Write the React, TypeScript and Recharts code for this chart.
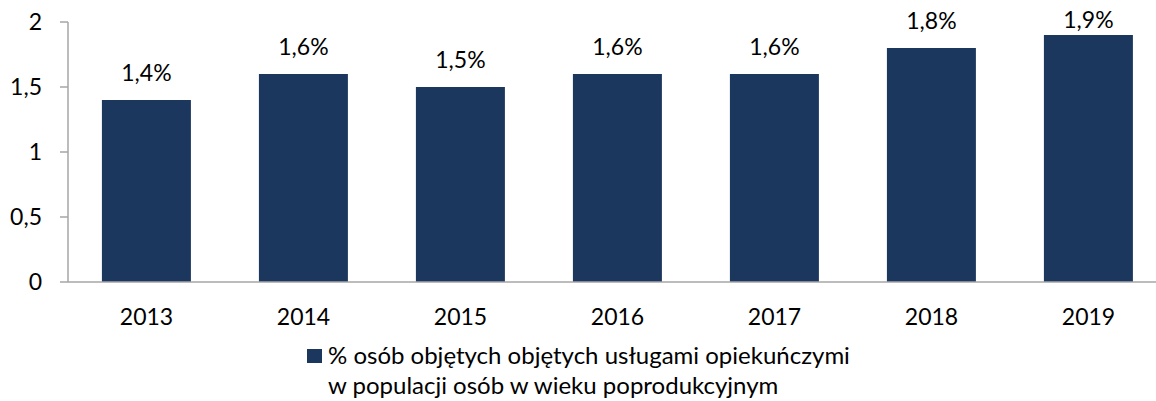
import React from "react";
import {
  BarChart,
  Bar,
  XAxis,
  YAxis,
  Legend,
  LabelList,
} from "recharts";

const years = ["2013", "2014", "2015", "2016", "2017", "2018", "2019"];
const shares = [1.4, 1.6, 1.5, 1.6, 1.6, 1.8, 1.9];
const yTicks = [0, 0.5, 1, 1.5, 2];
const legendLines = [
  "% osób objętych objętych usługami opiekuńczymi",
  "w populacji osób w wieku poprodukcyjnym",
];

const data = years.map((year, i) => ({ year, value: shares[i] }));
const boundaryTicks = years.map((_, i) => i).concat(years.length);

const BAR = "#1c375e";
const AXIS = "#a6a6a6";
const FONT = "Lato, 'Open Sans', sans-serif";
const TEXT_SIZE = 23;

const comma = (v: number | string) => String(v).replace(".", ",");

// value labels sit above bars, but never above the plot's top edge (like Excel)
const ValueLabel = (props: any) => {
  const { x, y, width, value } = props;
  const baseline = Math.max(Number(y) - 19, 28);
  return (
    <text
      x={Number(x) + Number(width) / 2}
      y={baseline}
      textAnchor="middle"
      fill="#000"
      fontSize={TEXT_SIZE}
      fontFamily={FONT}
    >
      {comma(Number(value).toFixed(1)) + "%"}
    </text>
  );
};

const LegendBox = () => (
  <div
    style={{
      display: "flex",
      alignItems: "flex-start",
      paddingLeft: 307,
      paddingTop: 18,
      fontFamily: FONT,
      fontSize: 24,
      lineHeight: "30px",
      color: "#000",
    }}
  >
    <span
      style={{
        width: 15,
        height: 14,
        background: BAR,
        marginTop: 9,
        marginRight: 6,
        flex: "none",
      }}
    />
    <div>
      {legendLines.map((l) => (
        <div key={l} style={{ whiteSpace: "nowrap" }}>
          {l}
        </div>
      ))}
    </div>
  </div>
);

const App: React.FC = () => {
  return (
    <div
      style={{
        position: "absolute",
        left: 0,
        top: 0,
        width: 1156,
        height: 401,
        overflow: "hidden",
        background: "#fff",
      }}
    >
      <BarChart
        width={1172}
        height={401}
        data={data}
        margin={{ top: 22, right: 5, bottom: 0, left: 0 }}
        barCategoryGap="21.6%"
        style={{ fontFamily: FONT }}
      >
        <XAxis
          xAxisId="edges"
          type="number"
          domain={[0, years.length]}
          ticks={boundaryTicks}
          tick={false}
          tickSize={8}
          tickLine={{ stroke: AXIS, strokeWidth: 1.5 }}
          axisLine={false}
          height={0}
        />
        <XAxis
          dataKey="year"
          height={40}
          tickLine={false}
          tickSize={6}
          tickMargin={21}
          axisLine={{ stroke: AXIS, strokeWidth: 1.5 }}
          tick={{ fill: "#000", fontSize: TEXT_SIZE, fontFamily: FONT }}
          interval={0}
        />
        <YAxis
          width={68}
          domain={[0, 2]}
          ticks={yTicks}
          tickSize={8}
          tickMargin={18}
          tickFormatter={comma}
          axisLine={{ stroke: AXIS, strokeWidth: 1.5 }}
          tickLine={{ stroke: AXIS, strokeWidth: 1.5 }}
          tick={{ fill: "#000", fontSize: TEXT_SIZE, fontFamily: FONT }}
        />
        <Legend
          verticalAlign="bottom"
          content={() => <LegendBox />}
          wrapperStyle={{ left: 0, width: 1156, height: 79 }}
        />
        <Bar
          dataKey="value"
          fill={BAR}
          isAnimationActive={false}
          name={legendLines.join(" ")}
        >
          <LabelList dataKey="value" content={ValueLabel} />
        </Bar>
      </BarChart>
    </div>
  );
};

export default App;
